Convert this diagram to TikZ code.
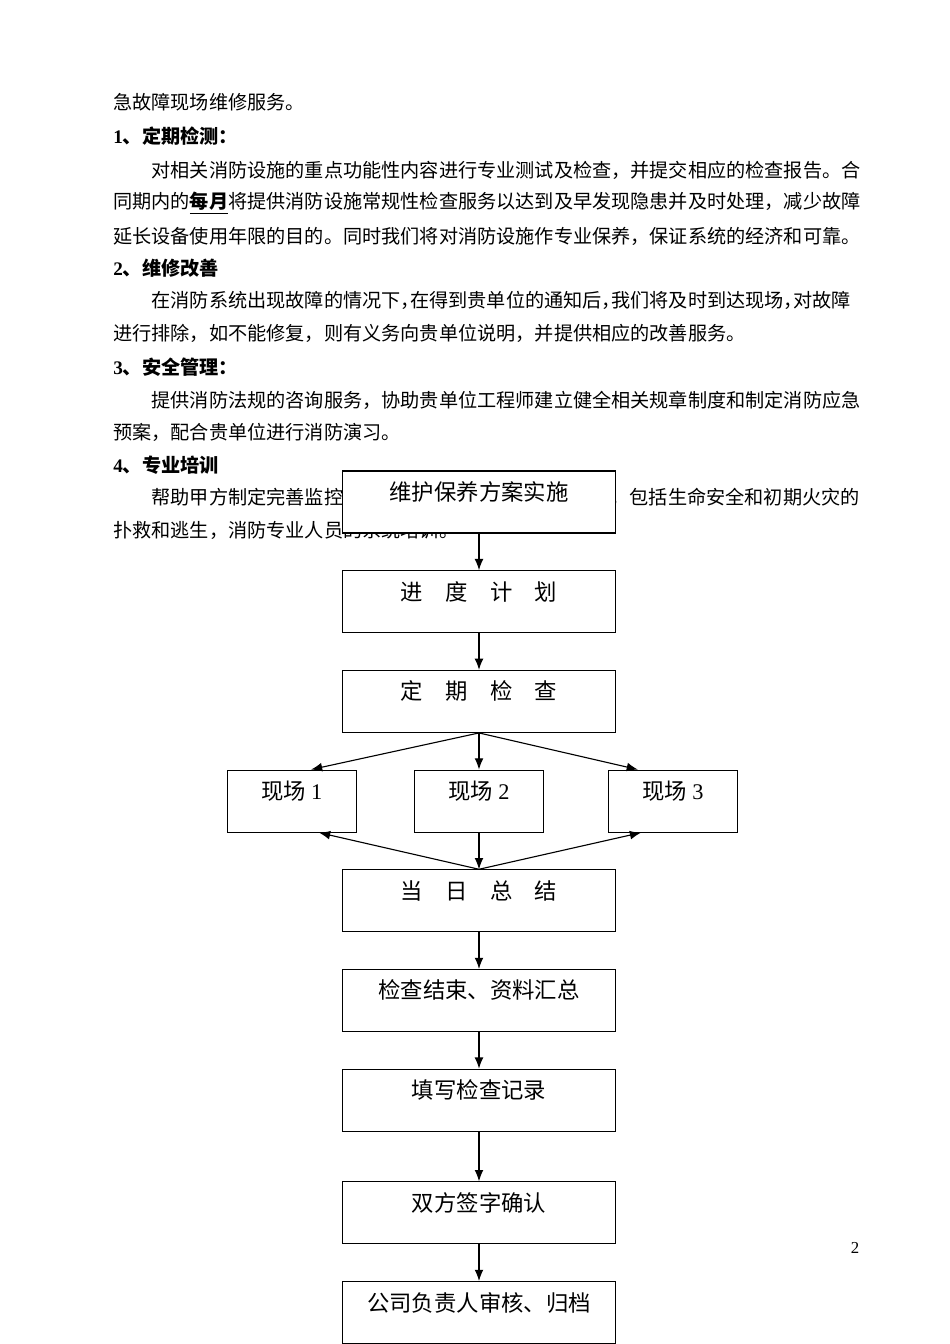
\documentclass[tikz,border=0pt]{standalone}
\usepackage{fontspec}
\setmainfont{Liberation Serif}
\newfontfamily\cjk{Noto Sans CJK SC}
\usetikzlibrary{arrows.meta, positioning}
\newcommand{\halfcomma}{\makebox[.5em][l]{，}}

\begin{document}
\begin{tikzpicture}[x=0.6263pt, y=-0.6263pt,
                    node distance=22.94pt,
                    body/.style={anchor=west, inner sep=0pt, font=\fontsize{12}{12}\selectfont\cjk},
                    head/.style={body, font=\fontsize{12}{12}\selectfont\cjk\bfseries},
                    stepbox/.style={draw, fill=white, line width=0.7pt, minimum width=171pt, inner xsep=0pt, inner ysep=0pt, text height=18.45pt, text depth=20.35pt, font=\fontsize{14}{14}\selectfont\cjk},
                    sitebox/.style={stepbox, minimum width=80.8pt},
                    arrow/.style={-{Latex[length=7pt,width=5.5pt]}, line width=0.7pt}
                ]
                \useasboundingbox (0,0) rectangle (950,1344);

                % --- Page text ---
                \node[body] (intro) at (113,102) {急故障现场维修服务。};
                \node[head] (headA) at (113,136) {{\rmfamily 1}、定期检测：};
                \node[body] (textA1) at (113,170) {\hspace*{2em}对相关消防设施的重点功能性内容进行专业测试及检查，并提交相应的检查报告。合};
                \node[body] (textA2) at (113,203) {同期内的\underline{\textbf{每月}}将提供消防设施常规性检查服务以达到及早发现隐患并及时处理，减少故障};
                \node[body] (textA3) at (113,236) {延长设备使用年限的目的。同时我们将对消防设施作专业保养，保证系统的经济和可靠。};
                \node[head] (headB) at (113,268) {{\rmfamily 2}、维修改善};
                \node[body] (textB1) at (113,300) {\hspace*{2em}在消防系统出现故障的情况下\halfcomma 在得到贵单位的通知后\halfcomma 我们将及时到达现场\halfcomma 对故障};
                \node[body] (textB2) at (113,333) {进行排除，如不能修复，则有义务向贵单位说明，并提供相应的改善服务。};
                \node[head] (headC) at (113,367) {{\rmfamily 3}、安全管理：};
                \node[body] (textC1) at (113,400) {\hspace*{2em}提供消防法规的咨询服务，协助贵单位工程师建立健全相关规章制度和制定消防应急};
                \node[body] (textC2) at (113,432) {预案，配合贵单位进行消防演习。};
                \node[head] (headD) at (113,465) {{\rmfamily 4}、专业培训};
                \node[body] (textD1) at (113,497) {\hspace*{2em}帮助甲方制定完善监控};
                \node[body, anchor=east] (textD1r) at (860,497) {，包括生命安全和初期火灾的};
                \node[body] (textD2) at (113,530) {扑救和逃生，消防专业人员的系统培训。};
                \node[font=\fontsize{10.5}{10.5}\selectfont] (pagenum) at (855,1248) {2};

                % --- Flow chart ---
                \node[stepbox] (plan) at (479,502) {维护保养方案实施};
                \node[stepbox, below=of plan] (sched) {进　度　计　划};
                \node[stepbox, below=of sched] (check) {定　期　检　查};
                \node[sitebox, below=of check] (site2) {现场 {\rmfamily 2}};
                \node[sitebox, left=35.7pt of site2] (site1) {现场 {\rmfamily 1}};
                \node[sitebox, right=40pt of site2] (site3) {现场 {\rmfamily 3}};
                \node[stepbox, below=of site2] (summary) {当　日　总　结};
                \node[stepbox, below=of summary] (finish) {检查结束、资料汇总};
                \node[stepbox, below=of finish] (record) {填写检查记录};
                \node[stepbox, below=31.04pt of record] (sign) {双方签字确认};
                \node[stepbox, below=of sign] (archive) {公司负责人审核、归档};

                \draw[arrow] (plan) -- (sched);
                \draw[arrow] (sched) -- (check);
                \draw[arrow] (check.south) -- ([xshift=12pt]site1.north);
                \draw[arrow] (check.south) -- (site2);
                \draw[arrow] (check.south) -- ([xshift=-22pt]site3.north);
                \draw[arrow] (summary.north) -- ([xshift=17pt]site1.south);
                \draw[arrow] (site2) -- (summary);
                \draw[arrow] (summary.north) -- ([xshift=-20pt]site3.south);
                \draw[arrow] (summary) -- (finish);
                \draw[arrow] (finish) -- (record);
                \draw[arrow] (record) -- (sign);
                \draw[arrow] (sign) -- (archive);

                \end{tikzpicture}
\end{document}
